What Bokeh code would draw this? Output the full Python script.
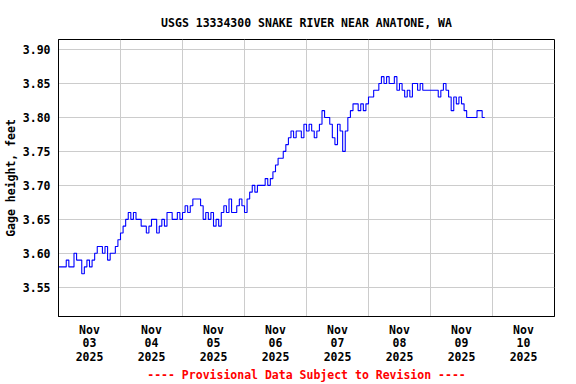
from bokeh.plotting import figure
from bokeh.models import FixedTicker, Range1d
from bokeh.embed import file_html
from bokeh.resources import INLINE

title_text = "USGS 13334300 SNAKE RIVER NEAR ANATONE, WA"
y_label = "Gage height, feet"
footer_text = "---- Provisional Data Subject to Revision ----"

# x positions of day labels (hours since Nov 03 00:00, labels at noon)
day_label_hours = [12, 36, 60, 84, 108, 132, 156, 180]
day_labels = ["Nov\n03\n2025", "Nov\n04\n2025", "Nov\n05\n2025", "Nov\n06\n2025",
              "Nov\n07\n2025", "Nov\n08\n2025", "Nov\n09\n2025", "Nov\n10\n2025"]
midnight_hours = [24, 48, 72, 96, 120, 144, 168]
y_ticks = [3.55, 3.60, 3.65, 3.70, 3.75, 3.80, 3.85, 3.90]

# hourly gage height readings, starting Nov 03 2025 00:00
hours = list(range(166))
gage = [
    3.58, 3.58, 3.58, 3.59, 3.58, 3.58, 3.60, 3.59, 3.59, 3.57,
    3.58, 3.59, 3.58, 3.59, 3.60, 3.61, 3.61, 3.60, 3.61, 3.59,
    3.60, 3.60, 3.61, 3.62, 3.63, 3.64, 3.65, 3.66, 3.65, 3.66,
    3.65, 3.65, 3.64, 3.64, 3.63, 3.64, 3.65, 3.65, 3.63, 3.64,
    3.65, 3.64, 3.66, 3.66, 3.65, 3.65, 3.66, 3.65, 3.66, 3.67,
    3.66, 3.67, 3.68, 3.68, 3.68, 3.67, 3.65, 3.66, 3.65, 3.66,
    3.64, 3.65, 3.64, 3.66, 3.67, 3.66, 3.68, 3.66, 3.66, 3.67,
    3.68, 3.67, 3.66, 3.68, 3.69, 3.70, 3.69, 3.70, 3.70, 3.70,
    3.71, 3.70, 3.71, 3.72, 3.73, 3.74, 3.74, 3.75, 3.76, 3.77,
    3.78, 3.77, 3.78, 3.78, 3.77, 3.79, 3.78, 3.79, 3.78, 3.77,
    3.78, 3.79, 3.81, 3.80, 3.80, 3.79, 3.77, 3.76, 3.79, 3.78,
    3.75, 3.78, 3.80, 3.81, 3.82, 3.82, 3.81, 3.82, 3.81, 3.82,
    3.83, 3.83, 3.84, 3.84, 3.85, 3.86, 3.85, 3.86, 3.85, 3.85,
    3.86, 3.84, 3.85, 3.84, 3.83, 3.84, 3.83, 3.85, 3.85, 3.84,
    3.85, 3.84, 3.84, 3.84, 3.84, 3.84, 3.84, 3.83, 3.84, 3.85,
    3.84, 3.83, 3.81, 3.83, 3.82, 3.83, 3.82, 3.81, 3.80, 3.80,
    3.80, 3.80, 3.81, 3.81, 3.80, 3.80,
]

FONT = "DejaVu Sans Mono"
FSIZE = "11.5px"

p = figure(frame_width=496, frame_height=277, output_backend="svg", toolbar_location=None,
           x_range=Range1d(0, 192), y_range=Range1d(3.507, 3.9147),
           min_border_left=51, min_border_right=14, min_border_top=39,
           min_border_bottom=20)

p.title.text = title_text
p.title.align = "center"
p.title.text_font = FONT
p.title.text_font_style = "bold"
p.title.text_font_size = FSIZE
p.title.text_color = "black"
p.title.standoff = 20

p.outline_line_color = "black"
p.outline_line_width = 1
p.background_fill_color = "white"
p.border_fill_color = "white"

p.step(hours, gage, mode="after", line_color="#0000ff", line_width=1.1)

xa = p.xaxis[0]
xa.ticker = FixedTicker(ticks=day_label_hours)
xa.major_label_overrides = dict(zip(day_label_hours, day_labels))
xa.major_tick_line_color = None
xa.major_tick_out = 0
xa.major_tick_in = 0
xa.minor_tick_line_color = None
xa.minor_tick_out = 0
xa.axis_line_color = "black"
xa.major_label_text_font = FONT
xa.major_label_text_font_style = "bold"
xa.major_label_text_font_size = FSIZE
xa.major_label_text_color = "black"
xa.major_label_text_line_height = 0.97
xa.major_label_standoff = 6
xa.axis_label = footer_text
xa.axis_label_text_color = "red"
xa.axis_label_text_font = FONT
xa.axis_label_text_font_style = "bold"
xa.axis_label_text_font_size = FSIZE
xa.axis_label_standoff = 1

ya = p.yaxis[0]
ya.ticker = FixedTicker(ticks=y_ticks)
ya.formatter.use_scientific = False
ya.major_label_overrides = {v: f"{v:.2f}" for v in y_ticks}
ya.major_tick_line_color = None
ya.major_tick_out = 0
ya.major_tick_in = 0
ya.minor_tick_line_color = None
ya.minor_tick_out = 0
ya.axis_line_color = "black"
ya.major_label_text_font = FONT
ya.major_label_text_font_style = "bold"
ya.major_label_text_font_size = FSIZE
ya.major_label_text_color = "black"
ya.major_label_standoff = 8
ya.axis_label = y_label
ya.axis_label_text_font = FONT
ya.axis_label_text_font_style = "bold"
ya.axis_label_text_font_size = FSIZE
ya.axis_label_text_color = "black"
ya.axis_label_standoff = 2

p.xgrid.ticker = FixedTicker(ticks=midnight_hours)
p.xgrid.grid_line_color = "#cccccc"
p.ygrid.grid_line_color = "#cccccc"

open("out.html", "w").write(file_html(p, INLINE))
